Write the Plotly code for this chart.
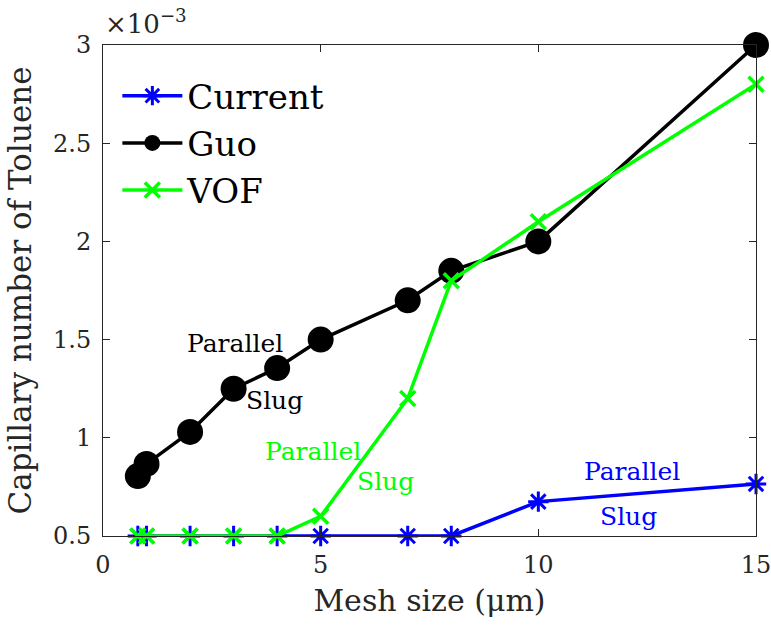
import plotly.graph_objects as go

mesh = [0.8, 1, 2, 3, 4, 5, 7, 8, 10, 15]
current = [0.5, 0.5, 0.5, 0.5, 0.5, 0.5, 0.5, 0.5, 0.675, 0.765]
guo = [0.805, 0.867, 1.03, 1.25, 1.355, 1.5, 1.70, 1.85, 2.0, 3.0]
vof = [0.5, 0.5, 0.5, 0.5, 0.5, 0.6, 1.2, 1.8, 2.1, 2.8]

labels_text = ["Parallel", "Slug", "Parallel", "Slug", "Parallel", "Slug"]
labels_x = [3.03, 3.95, 4.82, 6.48, 12.15, 12.08]
labels_y = [1.48, 1.19, 0.93, 0.775, 0.83, 0.60]
labels_col = ["black", "black", "#00ff00", "#00ff00", "#0000ff", "#0000ff"]

FONT = "DejaVu Serif"

fig = go.Figure()
fig.add_trace(go.Scatter(x=mesh, y=current, name="Current", mode="lines+markers",
                         line=dict(color="#0000ff", width=3.5),
                         marker=dict(symbol="asterisk-open", size=17,
                                     line=dict(color="#0000ff", width=3)),
                         cliponaxis=False))
fig.add_trace(go.Scatter(x=mesh, y=guo, name="Guo", mode="lines+markers",
                         line=dict(color="black", width=3.5),
                         marker=dict(symbol="circle", size=26, color="black"),
                         cliponaxis=False))
fig.add_trace(go.Scatter(x=mesh, y=vof, name="VOF", mode="lines+markers",
                         line=dict(color="#00ff00", width=3.5),
                         marker=dict(symbol="x-thin-open", size=15,
                                     line=dict(color="#00ff00", width=3.5)),
                         cliponaxis=False))

for t, x, y, c in zip(labels_text, labels_x, labels_y, labels_col):
    fig.add_annotation(x=x, y=y, xref="x", yref="y", text=t, showarrow=False,
                       font=dict(family=FONT, size=25, color=c),
                       xanchor="center", yanchor="middle")

fig.add_annotation(x=0, y=1, xref="paper", yref="paper", text="×10<sup>−3</sup>",
                   showarrow=False, xanchor="left", yanchor="bottom",
                   font=dict(family=FONT, size=26, color="#262626"), yshift=4)

axis_common = dict(showline=True, linecolor="#262626", linewidth=1, mirror="ticks",
                   ticks="inside", ticklen=7, tickcolor="#262626", showgrid=False,
                   zeroline=False, ticklabeloverflow="allow", automargin=False,
                   tickfont=dict(family=FONT, size=24, color="#262626"))

fig.update_xaxes(range=[0, 15], tickvals=[0, 5, 10, 15],
                 ticktext=["0", "5", "10", "15"], ticklabelstandoff=7,
                 title=dict(text="Mesh size (μm)", font=dict(family=FONT, size=30, color="#262626"),
                            standoff=12),
                 **axis_common)
fig.update_yaxes(range=[0.5, 3], tickvals=[0.5, 1, 1.5, 2, 2.5, 3],
                 ticktext=["0.5", "1", "1.5", "2", "2.5", "3"], ticklabelstandoff=6,
                 title=dict(text="Capillary number of Toluene",
                            font=dict(family=FONT, size=31, color="#262626"), standoff=12),
                 **axis_common)

fig.update_layout(
    width=771, height=627,
    margin=dict(l=103, r=15, t=45, b=91),
    plot_bgcolor="white", paper_bgcolor="white",
    legend=dict(x=0.022, y=0.955, xanchor="left", yanchor="top", bgcolor="rgba(0,0,0,0)",
                font=dict(family=FONT, size=34, color="black"), itemwidth=60,
                tracegroupgap=0),
    showlegend=True,
)

fig.write_html("out.html")
